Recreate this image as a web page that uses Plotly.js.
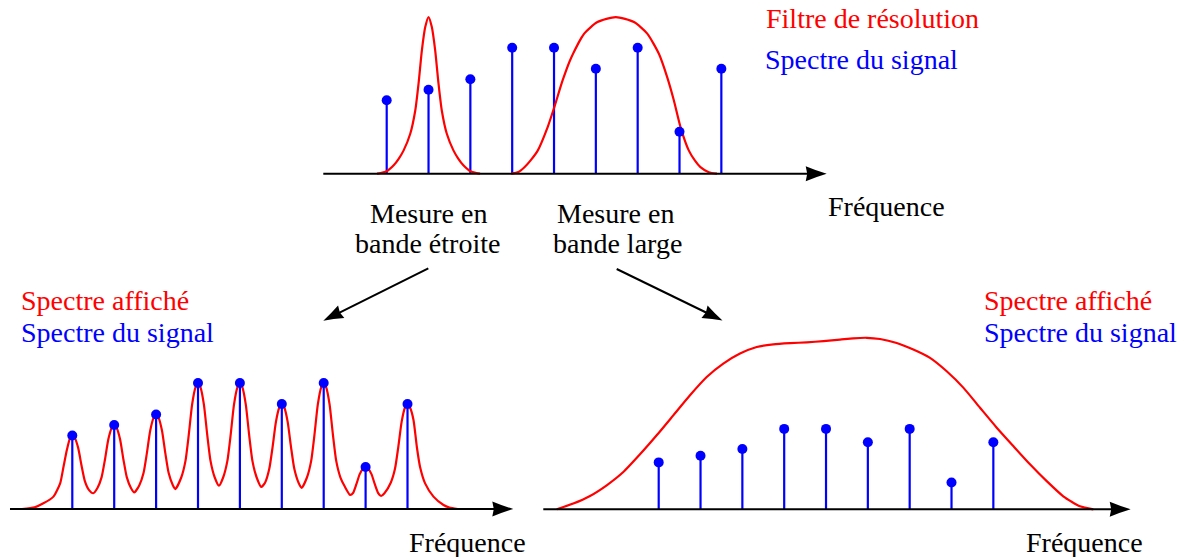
<!DOCTYPE html>
<html>
<head>
<meta charset="utf-8">
<script src="https://cdn.plot.ly/plotly-3.0.1.min.js"></script>
<style>html,body{margin:0;padding:0;background:#fff}#chart{width:1187px;height:557px}</style>
</head>
<body>
<div id="chart"></div>
<script>
// ---------- DATA ----------
const frequencies = [1, 2, 3, 4, 5, 6, 7, 8, 9];
const signalAmplitude = [3.5, 4, 4.5, 6, 6, 5, 6, 2, 5];

// narrow resolution filter (top panel, centred on line 2)
const narrowFilterFreq = [0.77, 1.0, 1.167, 1.29, 1.405, 1.563, 1.683, 1.762, 1.841, 1.921, 2, 2.079, 2.159, 2.238, 2.317, 2.437, 2.595, 2.71, 2.833, 3.0, 3.23];
const narrowFilterAmp  = [0, 0.12, 0.4, 0.72, 1.11, 1.9, 3.01, 4.3, 5.87, 6.98, 7.46, 6.98, 5.87, 4.3, 3.01, 1.9, 1.11, 0.72, 0.4, 0.12, 0];

// wide resolution filter (top panel)
const wideFilterFreq = [3.976, 4.15, 4.293, 4.45, 4.61, 4.848, 5.007, 5.205, 5.405, 5.721, 6.038, 6.476, 6.912, 7.229, 7.507, 7.705, 7.864, 8.024, 8.221, 8.37, 8.5, 8.7, 8.895];
const wideFilterAmp  = [0, 0.08, 0.31, 0.66, 1.10, 2.22, 3.17, 4.44, 5.5, 6.67, 7.22, 7.46, 7.22, 6.67, 5.71, 4.6, 3.5, 2.22, 1.11, 0.62, 0.31, 0.07, 0];

// displayed spectrum, narrow band measurement (bottom left)
const narrowDisplayFreq = [-0.2,0.1,0.31,0.55,0.71,0.79,0.87,0.945,1,
 1.06,1.14,1.22,1.30,1.40,1.5,1.6,1.70,1.78,1.86,1.94,2,
 2.06,2.14,2.22,2.30,2.40,2.48,2.60,2.70,2.78,2.86,2.94,3,
 3.06,3.14,3.22,3.30,3.40,3.46,3.60,3.70,3.78,3.86,3.94,4,
 4.06,4.14,4.22,4.30,4.40,4.5,4.60,4.70,4.78,4.86,4.94,5,
 5.06,5.14,5.22,5.30,5.40,5.51,5.60,5.70,5.78,5.86,5.94,6,
 6.06,6.14,6.22,6.30,6.40,6.475,6.60,6.70,6.78,6.86,6.94,7,
 7.06,7.14,7.22,7.30,7.40,7.50,7.63,7.70,7.78,7.86,7.94,8,
 8.06,8.14,8.22,8.30,8.37,8.45,8.60,8.70,8.78,8.86,8.94,9,
 9.06,9.143,9.224,9.30,9.42,9.62,9.86,10.0,10.2];
const narrowDisplayAmp = [0,0.08,0.27,0.59,1.22,2.01,2.81,3.37,3.5,
 3.38,2.91,2.07,1.33,0.9,0.75,1.0,1.52,2.36,3.32,3.86,4,
 3.86,3.32,2.36,1.52,1.0,0.79,1.13,1.71,2.66,3.74,4.34,4.5,
 4.34,3.74,2.66,1.71,1.13,0.95,1.5,2.28,3.54,4.98,5.79,6,
 5.79,4.98,3.54,2.28,1.5,1.11,1.5,2.28,3.54,4.98,5.79,6,
 5.79,4.98,3.54,2.28,1.5,1.05,1.25,1.90,2.95,4.15,4.83,5,
 4.83,4.15,2.95,1.90,1.25,1.01,1.5,2.28,3.54,4.98,5.79,6,
 5.79,4.98,3.54,2.28,1.5,1.08,0.67,0.76,1.18,1.66,1.93,2,
 1.93,1.66,1.18,0.76,0.62,0.75,1.25,1.90,2.95,4.15,4.83,5,
 4.83,4.24,2.94,2.0,1.22,0.59,0.19,0.07,0];

// displayed spectrum, wide band measurement (bottom right)
const wideDisplayFreq = [-1.438,-1.042,-0.642,-0.243,0.154,0.553,0.952,1.349,1.748,2.148,2.544,2.944,3.343,3.740,4.14,4.538,4.94,5.334,5.65,5.973,6.291,6.690,7.087,7.486,7.885,8.282,8.681,9.081,9.477,9.876,10.276,10.672,11.071,11.390];
const wideDisplayAmp  = [0,0.425,0.993,1.79,2.78,4.10,5.52,7.01,8.51,9.87,10.87,11.62,12.11,12.31,12.40,12.46,12.55,12.66,12.76,12.80,12.71,12.41,11.92,11.30,10.30,9.08,7.58,6.09,4.72,3.36,2.10,0.97,0.22,0];

// texts
const legendFilter = "Filtre de résolution";
const legendSignal = "Spectre du signal";
const legendDisplay = "Spectre affiché";
const axisLabel = "Fréquence";
const narrowLabel = ["Mesure en", "bande étroite"];
const wideLabel = ["Mesure en", "bande large"];

// ---------- LAYOUT GEOMETRY ----------
const W = 1187, H = 557;
const RED = "#ff0000", BLUE = "#0000ff", BLACK = "#000000";
const FONT = "Liberation Serif";
const FS = 28;

const panels = [
  {s: "",  x1: 386.7, pxF: 41.83, y0: 173.7, pxA: 21,   ax0: -0.516, ax1: 11.519},
  {s: "2", x1: 72.3,  pxF: 41.9,  y0: 509,   pxA: 21,   ax0: -0.487, ax1: 11.525},
  {s: "3", x1: 658.7, pxF: 41.83, y0: 509.3, pxA: 13.4, ax0: -1.759, ax1: 12.284}
];
const fpx = (p, f) => p.x1 + (f - 1) * p.pxF;
const px2x = px => px / W;
const px2y = py => 1 - py / H;

function stems(p, col) {
  const xs = [], ys = [];
  frequencies.forEach((f, i) => { xs.push(f, f, null); ys.push(0, signalAmplitude[i], null); });
  return {x: xs, y: ys, mode: "lines", type: "scatter", line: {color: col, width: 2.2},
          xaxis: "x" + p.s, yaxis: "y" + p.s, hoverinfo: "skip", cliponaxis: false};
}
function dots(p) {
  return {x: frequencies, y: signalAmplitude, mode: "markers", type: "scatter",
          marker: {color: BLUE, size: 10, line: {width: 0}},
          xaxis: "x" + p.s, yaxis: "y" + p.s, hoverinfo: "skip", cliponaxis: false};
}
function curve(p, xs, ys, sm) {
  return {x: xs, y: ys, mode: "lines", type: "scatter",
          line: {color: RED, width: 2.2, shape: "spline", smoothing: sm},
          xaxis: "x" + p.s, yaxis: "y" + p.s, hoverinfo: "skip", cliponaxis: false};
}

const traces = [
  stems(panels[0], BLUE),
  curve(panels[0], narrowFilterFreq, narrowFilterAmp, 0.6),
  curve(panels[0], wideFilterFreq, wideFilterAmp, 0.6),
  dots(panels[0]),
  stems(panels[1], BLUE),
  curve(panels[1], narrowDisplayFreq, narrowDisplayAmp, 0.6),
  dots(panels[1]),
  stems(panels[2], BLUE),
  curve(panels[2], wideDisplayFreq, wideDisplayAmp, 0.6),
  dots(panels[2])
];

// arrow head path (paper coords) from tip point and direction, in pixels
function head(tx, ty, dx, dy, len, half) {
  const n = Math.hypot(dx, dy); const ux = dx / n, uy = dy / n;
  const nx = -uy, ny = ux;
  const bx = tx - ux * len, by = ty - uy * len;
  const c1x = bx + nx * half, c1y = by + ny * half;
  const c2x = bx - nx * half, c2y = by - ny * half;
  const m1x = (tx + c1x) / 2 - nx * 0.6, m1y = (ty + c1y) / 2 - ny * 0.6;
  const m2x = (tx + c2x) / 2 + nx * 0.6, m2y = (ty + c2y) / 2 + ny * 0.6;
  const nbx = bx + ux * 1.5, nby = by + uy * 1.5;
  const P = (x, y) => px2x(x).toFixed(5) + "," + px2y(y).toFixed(5);
  return {type: "path", xref: "paper", yref: "paper",
          path: "M" + P(tx, ty) + " Q" + P(m1x, m1y) + " " + P(c1x, c1y) +
                " L" + P(nbx, nby) + " L" + P(c2x, c2y) + " Q" + P(m2x, m2y) + " " + P(tx, ty) + " Z",
          fillcolor: BLACK, line: {width: 0}};
}

const shapes = [];
panels.forEach(p => {
  shapes.push({type: "line", xref: "x" + p.s, yref: "y" + p.s, x0: p.ax0, x1: p.ax1 - 12 / p.pxF, y0: 0, y1: 0,
               line: {color: BLACK, width: 2}});
  shapes.push(head(fpx(p, p.ax1), p.y0, 1, 0, 21, 7.5));
});
// diagonal arrows
function diag(x0, y0, x1, y1) {
  const n = Math.hypot(x1 - x0, y1 - y0);
  const ex = x1 - (x1 - x0) / n * 12, ey = y1 - (y1 - y0) / n * 12;
  shapes.push({type: "line", xref: "paper", yref: "paper", x0: px2x(x0), y0: px2y(y0), x1: px2x(ex), y1: px2y(ey),
               line: {color: BLACK, width: 2}});
  shapes.push(head(x1, y1, x1 - x0, y1 - y0, 20, 7));
}
diag(428.3, 268.3, 323.3, 320.7);
diag(616.7, 269.0, 722.5, 320.5);

function txt(t, x, y, col, anchor) {
  return {text: t, xref: "paper", yref: "paper", x: px2x(x), y: px2y(y), xanchor: anchor || "left", yanchor: "middle",
          showarrow: false, font: {family: FONT, size: FS, color: col}, borderpad: 0};
}
const annotations = [
  txt(legendFilter, 765, 18.5, RED),
  txt(legendSignal, 764, 60, BLUE),
  txt(axisLabel, 826.5, 206, BLACK),
  txt(narrowLabel[0], 428.5, 213.5, BLACK, "center"),
  txt(narrowLabel[1], 427.5, 243.5, BLACK, "center"),
  txt(wideLabel[0], 616, 213.5, BLACK, "center"),
  txt(wideLabel[1], 617.5, 243.5, BLACK, "center"),
  txt(legendDisplay, 20, 300.8, RED),
  txt(legendSignal, 20, 332.5, BLUE),
  txt(axisLabel, 408.3, 542.5, BLACK),
  txt(legendDisplay, 983.3, 300.8, RED),
  txt(legendSignal, 983.3, 332.5, BLUE),
  txt(axisLabel, 1025, 542.5, BLACK)
];

const layout = {
  width: W, height: H, margin: {l: 0, r: 0, t: 0, b: 0, pad: 0},
  paper_bgcolor: "#ffffff", plot_bgcolor: "rgba(0,0,0,0)", showlegend: false,
  font: {family: FONT},
  shapes: shapes, annotations: annotations, hovermode: false
};
panels.forEach(p => {
  layout["xaxis" + p.s] = {domain: [0, 1], range: [1 + (0 - p.x1) / p.pxF, 1 + (W - p.x1) / p.pxF],
    visible: false, fixedrange: true, anchor: "y" + p.s};
  layout["yaxis" + p.s] = {domain: [0, 1], range: [(p.y0 - H) / p.pxA, p.y0 / p.pxA],
    visible: false, fixedrange: true, anchor: "x" + p.s};
});

Plotly.newPlot("chart", traces, layout, {displayModeBar: false, staticPlot: true});
</script>
</body>
</html>
